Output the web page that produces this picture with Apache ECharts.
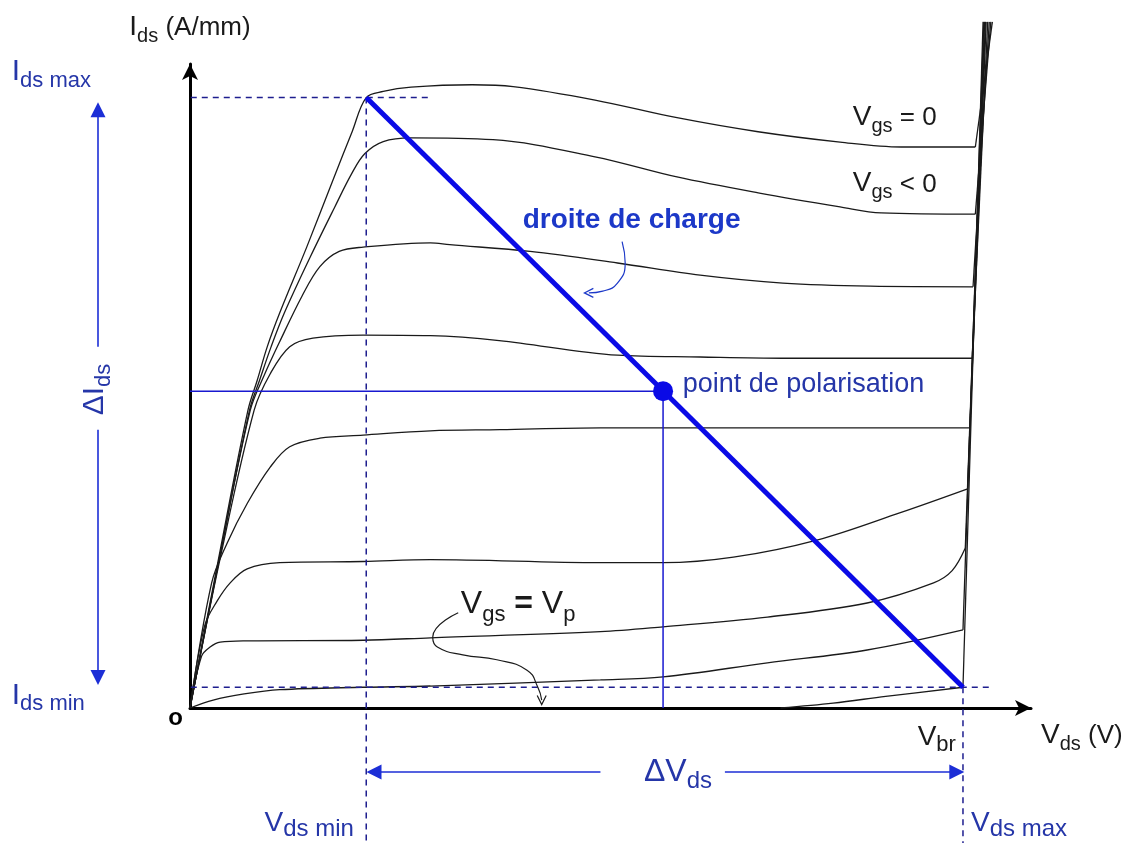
<!DOCTYPE html>
<html><head><meta charset="utf-8">
<script src="https://cdn.jsdelivr.net/npm/echarts@6.0.0/dist/echarts.min.js"></script>
<style>html,body{margin:0;padding:0;background:#fff}#c{width:1139px;height:843px}</style>
</head><body><div id="c"></div>
<script>
// ---- Data (Vds and Ids in arbitrary units: Vbr = 100, Ids max = 100) ----
const vdsMin = 22.8, vBr = 100, idsMax = 100, idsMin = 3.4;
const vdsQ = 61.2, idsQ = 51.9;            // point de polarisation
const curveVgs0   = [[0,0],[3.7,24.5],[7.5,48.8],[8.7,53.7],[10.0,59.2],[11.6,64.7],[15.1,75.5],[18.5,86.5],[21.0,94.5],[22.8,100.0],[25,101.0],[28.6,101.7],[36.5,102.1],[41.8,101.8],[52.4,99.6],[63.0,96.7],[73.5,94.4],[84.1,92.7],[92.0,91.9],[101.6,91.9]];
const curveVgsNeg = [[0,0],[3.8,24.5],[7.7,48.8],[9.0,53.7],[10.5,59.2],[12.2,64.7],[15.6,74.0],[18.7,82.0],[20.9,87.5],[22.6,90.8],[25.0,92.8],[28.6,93.4],[39.2,93.1],[52.4,90.3],[63.0,87.0],[73.5,84.4],[84.1,82.1],[89.4,81.1],[101.6,80.9]];
const curve3 = [[0,0],[3.8,24.5],[7.8,48.8],[9.6,54.5],[11.6,60.0],[14.5,67.5],[16.8,72.3],[19.3,74.8],[22.4,75.5],[31.1,76.2],[33.6,75.9],[44,74.8],[55.3,72.9],[66.0,70.9],[76.7,69.6],[88.0,69.1],[101.3,69.0]];
const curve4 = [[0,0],[3.9,24.5],[8.3,48.8],[10.4,54.8],[12.9,59.2],[15.9,60.6],[22.4,61.1],[31.1,61.0],[40,60.2],[55.3,57.8],[66.0,57.5],[76.7,57.3],[101.2,57.3]];
const curve5 = [[0,0],[2.8,20.5],[4.8,27],[7.4,33.5],[10.4,39.5],[12.9,42.8],[16.8,44.2],[22.4,44.7],[31.1,45.4],[40.1,45.6],[53.1,45.9],[100.9,45.9]];
const curve6 = [[0,0],[1.9,13.5],[3.5,17.5],[5.2,20.5],[7.4,22.8],[11.6,23.8],[22.4,24.0],[31.1,24.3],[53.1,23.8],[61.2,23.8],[70.3,24.7],[81.1,27.5],[91.9,32.0],[100.6,35.9]];
const curve7 = [[0,0],[1.5,8.5],[2.6,10.0],[3.9,10.8],[7.4,11.0],[22.4,11.1],[31.1,11.5],[53.1,12.5],[61.2,13.3],[74.7,14.9],[87.6,17.2],[96.2,20.5],[98.6,22.5],[100.3,26.2]];
const curve8 = [[0,0],[3.0,1.3],[7.0,2.3],[11.6,3.0],[22.4,3.4],[31.1,3.6],[53.1,4.6],[61.2,5.1],[74.7,7.4],[87.6,9.5],[100,12.8]];
const curveVp = [[76.4,0],[83.2,0.8],[90,1.9],[100,3.4]];
const breakdownTopVds = [103.8,103.6,103.4,103.2,103.0,102.9,102.8,102.7,102.6];
const breakdownTopIds = 112.4;

// ---- Annotation geometry (data units) ----
const idsArrowX = -11.9, vdsArrowY = -10.5;
const dashLeft = -18.4, dashRight = 103.8, dashTopRight = 31.1, dashBottom = -22.1;
const ptrVp = [[34.7,15.6],[31.4,11.6],[32.0,10.0],[35.3,8.7],[39.7,7.9],[43.6,6.2],[45.0,3.4],[45.5,1.3]];
const ptrCharge = [[55.9,76.4],[56.3,72.9],[55.3,69.6],[53.4,68.3],[51.6,68.0]];

const FONT = 'Liberation Sans, Arial, Helvetica, sans-serif';
const BLACK = '#1a1a1a', BLUE_TXT = '#2536a8', BLUE = '#0a0ae6', NAVY = '#1e1e8f';

function rich(color, m, s, r) {
  const pad = Math.round(m * 0.18);
  r = r || m;
  return {
    m: {fontSize: m, lineHeight: m, color, fontFamily: FONT, verticalAlign: 'bottom', padding: [0,0,pad,0]},
    s: {fontSize: s, lineHeight: s, color, fontFamily: FONT, verticalAlign: 'bottom'},
    r: {fontSize: r, lineHeight: r, color, fontFamily: FONT, verticalAlign: 'bottom', padding: [0,0,pad,0]},
    b: {fontSize: r, lineHeight: r, color, fontFamily: FONT, fontWeight: 'bold', verticalAlign: 'bottom', padding: [0,0,pad,0]}
  };
}

const annotations = [
  {t: '{m|I}{s|ds max}', at: [-23.0, 100.9], al: 'left', va: 'bottom', rich: rich(BLUE_TXT, 30, 22)},
  {t: '{m|I}{s|ds min}', at: [-23.0, -1.3], al: 'left', va: 'bottom', rich: rich(BLUE_TXT, 30, 22)},
  {t: '{m|ΔI}{s|ds}', at: [-11.6, 52.1], al: 'center', va: 'middle', rot: 90, rich: rich(BLUE_TXT, 30, 22)},
  {t: '{m|ΔV}{s|ds}', at: [63.2, -11.5], al: 'center', va: 'middle', rich: rich(BLUE_TXT, 32, 24)},
  {t: '{m|V}{s|ds min}', at: [9.7, -22.0], al: 'left', va: 'bottom', rich: rich(BLUE_TXT, 28, 24)},
  {t: '{m|V}{s|ds max}', at: [101.1, -22.0], al: 'left', va: 'bottom', rich: rich(BLUE_TXT, 28, 24)},
  {t: '{m|V}{s|br}', at: [94.2, -8.0], al: 'left', va: 'bottom', rich: rich(BLACK, 28, 22)},
  {t: '{m|V}{s|gs}{r| = 0}', at: [85.8, 93.6], al: 'left', va: 'bottom', rich: rich(BLACK, 28, 20, 26)},
  {t: '{m|V}{s|gs}{r| < 0}', at: [85.8, 82.7], al: 'left', va: 'bottom', rich: rich(BLACK, 28, 20, 26)},
  {t: '{m|V}{s|gs}{b| = }{m|V}{s|p}', at: [35.1, 13.3], al: 'left', va: 'bottom', rich: rich(BLACK, 32, 22)},
  {t: 'droite de charge', at: [43.1, 79.8], al: 'left', va: 'middle', style: {fontSize: 28, fontWeight: 'bold', color: '#1c38c8'}},
  {t: 'point de polarisation', at: [63.8, 52.9], al: 'left', va: 'middle', style: {fontSize: 27, color: BLUE_TXT}},
  {t: 'o', at: [-1.8, -1.8], al: 'center', va: 'middle', style: {fontSize: 24, fontWeight: 'bold', color: '#000'}}
];

const curves = [curveVgs0, curveVgsNeg, curve3, curve4, curve5, curve6, curve7, curve8, curveVp];

const series = [];
curves.forEach((c, i) => {
  series.push({type: 'line', data: c, smooth: 0.35, showSymbol: false, clip: false, silent: true, z: 3,
    lineStyle: {color: BLACK, width: 1.3}});
  const end = c[c.length - 1];
  series.push({type: 'line', data: [end, [breakdownTopVds[i], breakdownTopIds]], showSymbol: false, clip: false, silent: true, z: 3,
    lineStyle: {color: BLACK, width: 1.3}});
});
function seg(data, color, width, type, z) {
  return {type: 'line', data, showSymbol: false, clip: false, silent: true, z: z || 4,
    lineStyle: {color, width, type: type || 'solid'}};
}
// dashed guide lines
series.push(seg([[dashLeft, idsMax], [dashTopRight, idsMax]], NAVY, 1.5, [6, 5]));
series.push(seg([[dashLeft, idsMin], [dashRight, idsMin]], NAVY, 1.5, [6, 5]));
series.push(seg([[vdsMin, idsMax], [vdsMin, dashBottom]], NAVY, 1.5, [6, 5]));
series.push(seg([[vBr, idsMin], [vBr, dashBottom]], NAVY, 1.5, [6, 5]));
// bias point projections
series.push(seg([[0, idsQ], [vdsQ, idsQ]], '#1818d0', 1.5));
series.push(seg([[vdsQ, idsQ], [vdsQ, 0]], '#1818d0', 1.5));
// load line
series.push(seg([[vdsMin, idsMax], [vBr, idsMin]], BLUE, 5, 'solid', 6));
series.push({type: 'scatter', data: [[vdsQ, idsQ]], symbolSize: 20, itemStyle: {color: BLUE, opacity: 1}, silent: true, z: 7});
// delta arrows
series.push({type: 'lines', coordinateSystem: 'cartesian2d', clip: false, silent: true, z: 5,
  symbol: ['none', 'triangle'], symbolSize: 15,
  lineStyle: {color: '#1c2ed6', width: 1.6, opacity: 1},
  data: [
    {coords: [[idsArrowX, 59.2], [idsArrowX, 98.0]]},
    {coords: [[idsArrowX, 45.6], [idsArrowX, 5.0]]},
    {coords: [[53.1, vdsArrowY], [23.8, vdsArrowY]]},
    {coords: [[69.2, vdsArrowY], [99.2, vdsArrowY]]}
  ]});
// pointers
series.push({type: 'line', data: ptrVp.map((p, i) => i === ptrVp.length - 1 ? {value: p, symbol: 'path://M0,0L5,9L10,0', symbolSize: [9, 9]} : {value: p, symbol: 'none'}),
  smooth: 0.5, showSymbol: true, clip: false, silent: true, z: 5,
  itemStyle: {color: 'rgba(0,0,0,0)', borderColor: BLACK, borderWidth: 1.2, opacity: 1},
  lineStyle: {color: BLACK, width: 1.2}});
series.push({type: 'line', data: ptrCharge.map((p, i) => i === ptrCharge.length - 1 ? {value: p, symbol: 'path://M9,0L0,5L9,10', symbolSize: [9, 9]} : {value: p, symbol: 'none'}),
  smooth: 0.5, showSymbol: true, clip: false, silent: true, z: 5,
  itemStyle: {color: 'rgba(0,0,0,0)', borderColor: '#1c38c8', borderWidth: 1.2, opacity: 1},
  lineStyle: {color: '#1c38c8', width: 1.2}});
// text annotations
series.push({type: 'scatter', symbolSize: 1, clip: false, silent: true, z: 8,
  itemStyle: {color: 'rgba(0,0,0,0)', opacity: 1},
  data: annotations.map(a => ({value: a.at, label: Object.assign({
    show: true, position: [0, 0], align: a.al, verticalAlign: a.va, rotate: a.rot || 0,
    formatter: a.t, fontFamily: FONT, opacity: 1
  }, a.rich ? {rich: a.rich} : a.style)}))
});

const chart = echarts.init(document.getElementById('c'));
chart.setOption({
  animation: false,
  backgroundColor: '#fff',
  grid: {left: 190, right: 108, top: 64, bottom: 135, containLabel: false},
  xAxis: {type: 'value', min: 0, max: 108.8,
    axisLine: {show: true, onZero: false, symbol: ['none', 'arrow'], symbolSize: [12, 16], lineStyle: {color: '#000', width: 3}},
    axisTick: {show: false}, axisLabel: {show: false}, splitLine: {show: false},
    name: '{m|V}{s|ds}{r| (V)}', nameLocation: 'end', nameGap: 10,
    nameTextStyle: {verticalAlign: 'top', padding: [18, 0, 0, 0], rich: rich(BLACK, 28, 20, 26)}},
  yAxis: {type: 'value', min: 0, max: 105.5,
    axisLine: {show: true, onZero: false, symbol: ['none', 'arrow'], symbolSize: [12, 16], lineStyle: {color: '#000', width: 3}},
    axisTick: {show: false}, axisLabel: {show: false}, splitLine: {show: false},
    name: '{m|I}{s|ds}{r| (A/mm)}', nameLocation: 'end', nameGap: 18,
    nameTextStyle: {rich: rich(BLACK, 28, 20, 26)}},
  series
});
</script></body></html>
